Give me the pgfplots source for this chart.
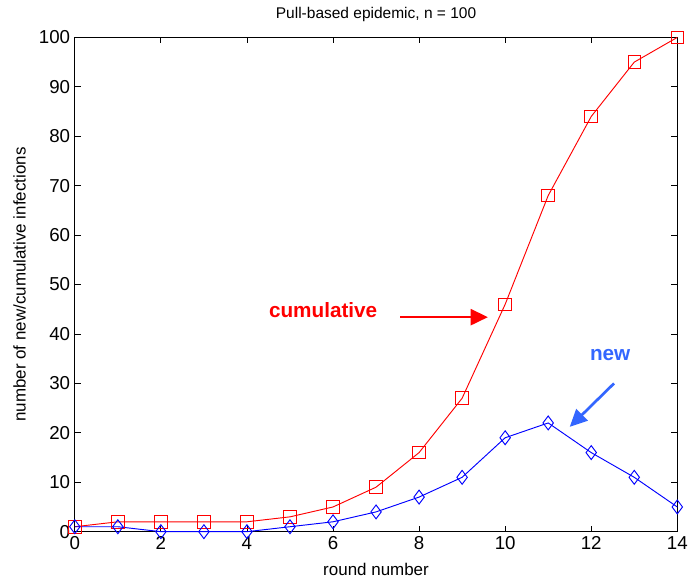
\documentclass[border=0pt]{standalone}
\usepackage{fontspec}
\setmainfont{Liberation Sans}
\usepackage{pgfplots}
\pgfplotsset{compat=1.18}
\usetikzlibrary{arrows.meta,calc}
\definecolor{mred}{RGB}{255,0,0}
\definecolor{mblue}{RGB}{0,0,255}
\definecolor{annblue}{RGB}{51,102,255}
\begin{document}
\begin{tikzpicture}
\begin{axis}[
    scale only axis,
    width=451pt, height=370pt,
    xmin=0, xmax=14, ymin=0, ymax=100,
    xtick={0,2,...,14},
    ytick={0,10,...,100},
    tick align=inside,
    major tick length=4.5pt,
    axis line style={line width=0.9pt},
    every tick/.style={black, line width=0.6pt},
    tick label style={font=\fontsize{14}{16}\selectfont},
    /pgf/number format/assume math mode=true,
    xlabel={round number},
    ylabel={number of new/cumulative infections},
    label style={font=\fontsize{12.7}{14}\selectfont},
    title={Pull-based epidemic, n = 100},
    title style={font=\fontsize{11.6}{13}\selectfont, yshift=2pt},
    xlabel style={yshift=-3pt},
    ylabel style={yshift=3pt},
    clip=false,
]
% cumulative infections
\addplot[color=mred, line width=0.7pt, mark=square, mark size=4.7pt,
    mark options={line width=0.7pt}]
    coordinates {
    (0,1)(1,2)(2,2)(3,2)(4,2)(5,3)(6,5)(7,9)(8,16)(9,27)(10,46)(11,68)(12,84)(13,95)(14,100)
    };
% new infections
\addplot[color=mblue, line width=0.7pt, mark=diamond, mark size=5.2pt,
    mark options={line width=0.7pt}]
    coordinates {
    (0,1)(1,1)(2,0)(3,0)(4,0)(5,1)(6,2)(7,4)(8,7)(9,11)(10,19)(11,22)(12,16)(13,11)(14,5)
    };

\node[text=mred, font=\bfseries\fontsize{15.5}{17}\selectfont] at (axis cs:5.77,44.8) {cumulative};
\draw[mred, line width=2pt, -{Triangle[length=13pt,width=12pt]}] (axis cs:7.56,43.4) -- (axis cs:9.6,43.4);
\node[text=annblue, font=\bfseries\fontsize{15.5}{17}\selectfont] at (axis cs:12.44,35.7) {new};
\draw[annblue, line width=2pt, -{Triangle[length=13pt,width=12pt]}] (axis cs:12.53,30.0) -- (axis cs:11.5,21.2);
\end{axis}
\pgfresetboundingbox
\path[use as bounding box] ($(current axis.south west)+(-56pt,-40pt)$) rectangle ($(current axis.north east)+(17pt,28pt)$);
\end{tikzpicture}
\end{document}
